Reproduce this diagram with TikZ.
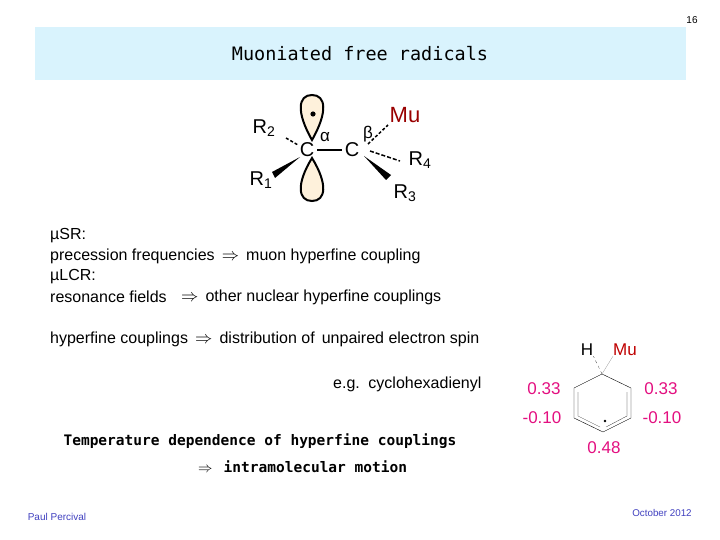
\documentclass[tikz,border=0pt]{standalone}
\usepackage{fontspec}
\setmainfont{Liberation Sans}
\newfontfamily\monof{DejaVu Sans Mono}
\begin{document}
\begin{tikzpicture}[x=1pt,y=-1pt,
  txt/.style={anchor=west,inner sep=0pt,font=\fontsize{16}{18}\selectfont},
  big/.style={inner sep=0pt,font=\fontsize{20}{22}\selectfont},
  numlab/.style={inner sep=0pt,text=magenta!80!purple,font=\fontsize{17}{19}\selectfont},
  lobe/.style={draw=black,line width=2pt,fill=yellow!15!orange!12}]
\useasboundingbox (0,0) rectangle (720,540);
\fill[cyan!15] (35,27) rectangle (686,80);
\node[font=\fontsize{10}{11}\selectfont,inner sep=0pt] (pg) at (692,20) {16};
\node[font=\monof\fontsize{18.5}{20}\selectfont,inner sep=0pt] (title) at (360,54) {Muoniated free radicals};
% orbital lobes
\draw[lobe] (312,140) .. controls (296,112) and (298,95) .. (312,95) .. controls (326,95) and (328,112) .. (312,140) -- cycle;
\draw[lobe] (312,158) .. controls (296,184) and (298,201) .. (312,201) .. controls (326,201) and (328,184) .. (312,158) -- cycle;
\fill (313,114) circle (2.6);
\node[big] (Ca) at (307,150) {C};
\node[inner sep=0pt,font=\fontsize{17}{18}\selectfont] (al) at (325,137) {α};
\node[big] (Cb) at (352,150) {C};
\node[inner sep=0pt,font=\fontsize{17}{18}\selectfont] (be) at (368,134) {β};
\node[inner sep=0pt,font=\fontsize{22}{24}\selectfont,text=red!60!black] (Mu) at (405,115) {Mu};
\node[big] (R2) at (264,128) {R\textsubscript{2}};
\node[big] (R1) at (261,180) {R\textsubscript{1}};
\node[big] (R4) at (420,160) {R\textsubscript{4}};
\node[big] (R3) at (405,193) {R\textsubscript{3}};
\draw[line width=2.5pt] ([xshift=3]Ca.east) -- ([xshift=-3]Cb.west);
\draw[line width=1.5pt,dash pattern=on 3pt off 2pt] (286,138) -- (298,145);
\fill (300,157) -- (272,172) -- (275,178) -- cycle;
\draw[line width=1.5pt,dash pattern=on 3pt off 2pt] (368,144) -- (388,125);
\draw[line width=1.5pt,dash pattern=on 4pt off 2pt] (370,151) -- (400,161);
\fill (364,156) -- (386,180) -- (391,175) -- cycle;
% text
\node[txt] (t1) at (50,236) {µSR:};
\node[txt] (t2) at (50,256) {precession frequencies \,$\Rightarrow$\, muon hyperfine coupling};
\node[txt] (t3) at (50,277) {µLCR:};
\node[txt] (t4) at (50,297) {resonance fields};
\node[txt] (t4b) at (181,297) {$\Rightarrow$\, other nuclear hyperfine couplings};
\node[txt] (t5) at (50,339) {hyperfine couplings \,$\Rightarrow$\, distribution of \,unpaired electron spin};
\node[txt] (t6) at (333,384) {e.g. \,cyclohexadienyl};
\node[inner sep=0pt,font=\monof\bfseries\fontsize{14.5}{16}\selectfont] (t7) at (260,441) {Temperature dependence of hyperfine couplings};
\node[inner sep=0pt,anchor=west,font=\monof\bfseries\fontsize{14.5}{16}\selectfont] (t8) at (198,467) {$\Rightarrow$\, intramolecular motion};
\node[inner sep=0pt,text=blue!50!gray,font=\fontsize{10}{11}\selectfont] (pp) at (57,517) {Paul Percival};
\node[inner sep=0pt,text=blue!50!gray,font=\fontsize{9.8}{11}\selectfont] (oc) at (662,513) {October 2012};
% cyclohexadienyl
\coordinate (a) at (602,374); \coordinate (b) at (574,388); \coordinate (c) at (574,418);
\coordinate (d) at (603,432); \coordinate (e) at (631,418); \coordinate (f) at (631,388);
\draw[thin] (a) -- (b) -- (c) -- (d) -- (e) -- (f) -- cycle;
\draw[very thin] (578,392) -- (578,416) -- (600,427);
\draw[very thin] (627,392) -- (627,416) -- (606,427);
\fill (605,421) circle (1.3);
\node[inner sep=0pt,font=\fontsize{17}{19}\selectfont] (H) at (587,350) {H};
\node[inner sep=0pt,text=red!75!black,font=\fontsize{17}{19}\selectfont] (Mu2) at (625,350) {Mu};
\draw[very thin,dashed] (a) -- (H.south east);
\draw[very thin,gray] (a) -- (Mu2.south west);
\node[numlab] (n1) at (544,389) {0.33};
\node[numlab] (n2) at (661,389) {0.33};
\node[numlab] (n3) at (542,418) {-0.10};
\node[numlab] (n4) at (662,418) {-0.10};
\node[numlab] (n5) at (604,448) {0.48};
\end{tikzpicture}
\end{document}
